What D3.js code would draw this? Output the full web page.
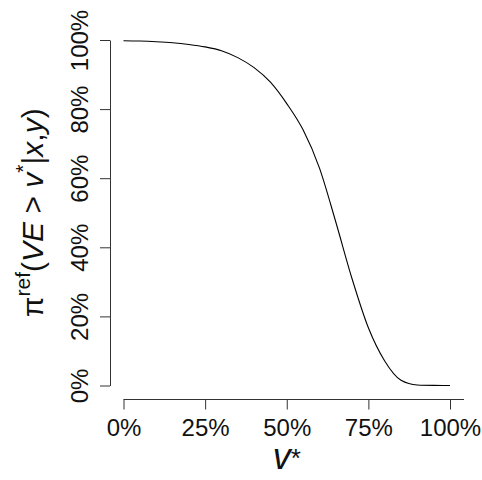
<!DOCTYPE html>
<html>
<head>
<meta charset="utf-8">
<script src="https://cdn.jsdelivr.net/npm/d3@7"></script>
<style>
  html, body { margin: 0; padding: 0; background: #fff; }
  svg { display: block; font-family: "Liberation Sans", Arial, Helvetica, sans-serif; }
</style>
</head>
<body>
<svg id="chart" width="482" height="480"></svg>
<script>
// Threshold v* (percent) and posterior probability that VE exceeds it (percent)
const vStar = [0, 5, 10, 15, 20, 25, 30, 35, 40, 45, 50, 55, 60, 65, 70, 75, 80, 85, 90, 95, 100];
const probRef = [99.8, 99.7, 99.5, 99.2, 98.7, 98.0, 96.9, 94.9, 92.0, 87.8, 81.6, 74.0, 63.0, 47.4, 30.9, 16.7, 7.1, 1.5, 0.15, 0.03, 0];

const xTicks = [0, 25, 50, 75, 100];
const yTicks = [0, 20, 40, 60, 80, 100];
const pct = d => d + "%";

const svg = d3.select("#chart");

const x = d3.scaleLinear().domain([0, 100]).range([123.5, 450]);
const y = d3.scaleLinear().domain([0, 100]).range([385.5, 40]);

const axisColor = "#333";

// x axis
const gx = svg.append("g")
  .attr("transform", "translate(0,399.5)")
  .call(d3.axisBottom(x).tickValues(xTicks).tickFormat(pct).tickSize(10).tickSizeOuter(0).tickPadding(9));
gx.select(".domain").attr("d", `M${x(0)},0H${x(100) + 14}`);

// y axis
const gy = svg.append("g")
  .attr("transform", "translate(110,0)")
  .call(d3.axisLeft(y).tickValues(yTicks).tickFormat(pct).tickSize(10).tickSizeOuter(0));

[gx, gy].forEach(g => {
  g.select(".domain").attr("stroke", axisColor).attr("stroke-width", 1);
  g.selectAll(".tick line").attr("stroke", axisColor).attr("stroke-width", 1);
  g.selectAll(".tick text")
    .attr("fill", "#111")
    .style("font-size", "24px")
    .style("font-family", "\"Liberation Sans\", Arial, Helvetica, sans-serif");
});

gy.selectAll(".tick text")
  .attr("x", null).attr("dy", null)
  .attr("text-anchor", "middle")
  .attr("transform", "translate(-22,0) rotate(-90)");

// probability curve
const line = d3.line()
  .x((d, i) => x(vStar[i]))
  .y(d => y(d))
  .curve(d3.curveMonotoneX);

svg.append("path")
  .datum(probRef)
  .attr("fill", "none")
  .attr("stroke", "#000")
  .attr("stroke-width", 1.1)
  .attr("d", line);

// x axis title: v*
const xt = svg.append("text")
  .attr("x", (x(0) + x(100)) / 2)
  .attr("y", 469)
  .attr("text-anchor", "middle")
  .attr("fill", "#111")
  .style("font-size", "36px");
xt.append("tspan").style("font-style", "italic").text("v");
xt.append("tspan").style("font-size", "26px").attr("dy", -2).text("*");

// y axis title: pi^ref(VE > v*|x,y)
const yt = svg.append("text")
  .attr("transform", `translate(43,${(y(0) + y(100)) / 2}) rotate(-90)`)
  .attr("text-anchor", "middle")
  .attr("fill", "#111")
  .style("font-size", "30px");
yt.append("tspan").text("π");
yt.append("tspan").style("font-size", "21px").attr("dy", -13).text("ref");
yt.append("tspan").attr("dy", 13).text("(");
yt.append("tspan").style("font-style", "italic").text("VE");
yt.append("tspan").text(" > ");
yt.append("tspan").style("font-style", "italic").text("v");
yt.append("tspan").style("font-size", "21px").attr("dy", -13).text("*");
yt.append("tspan").attr("dy", 13).text("|");
yt.append("tspan").style("font-style", "italic").text("x");
yt.append("tspan").text(",");
yt.append("tspan").style("font-style", "italic").text("y");
yt.append("tspan").text(")");
</script>
</body>
</html>
